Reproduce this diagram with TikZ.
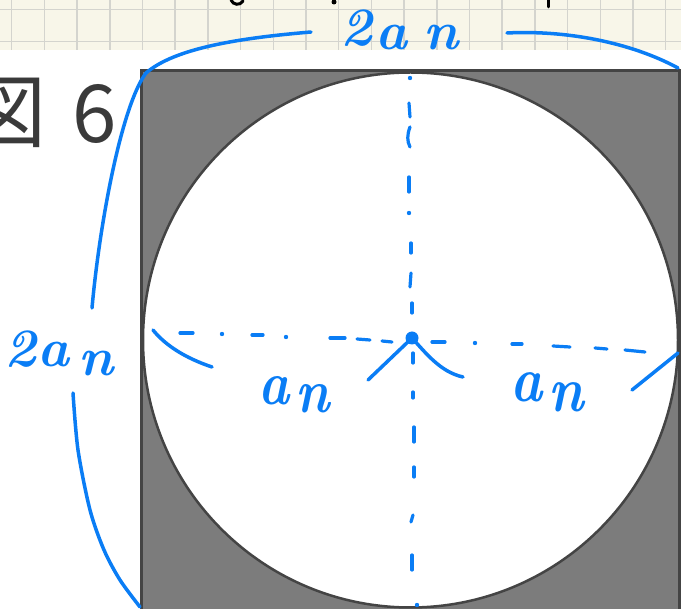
\documentclass[tikz,border=0pt]{standalone}
\usepackage{fontspec}
\newfontfamily\cjk{Noto Sans CJK JP}
\definecolor{pen}{RGB}{10,125,245}
\definecolor{paper}{RGB}{248,246,233}
\definecolor{gridc}{RGB}{212,212,206}
\definecolor{sq}{RGB}{124,124,124}
\definecolor{edge}{RGB}{68,68,68}
\definecolor{ink}{RGB}{58,58,58}
\begin{document}
\begin{tikzpicture}[x=1pt,y=-1pt,
  penline/.style={draw=pen, line width=3.5pt, line cap=round, line join=round},
  dashseg/.style={draw=pen, line width=3.2pt, line cap=round},
  dotmark/.style={fill=pen},
  hand/.style={text=pen, inner sep=0pt, anchor=base west, font=\fontsize{#1}{#1}\selectfont\bfseries\itshape},
  fig/.style={text=ink, inner sep=0pt, font=\cjk\fontsize{80}{80}\selectfont}]
\useasboundingbox (0,0) rectangle (681,609);
% grid paper strip
\fill[paper] (0,0) rectangle (681,50);
\foreach \i in {0,...,20} \draw[gridc, line width=1.5pt] ({11.7+32.7*\i},0) -- ({11.7+32.7*\i},50);
\draw[gridc, line width=1.5pt] (0,9.3) -- (681,9.3) (0,41.7) -- (681,41.7);
% fragments of writing cut at the top
\draw[black, line width=3pt, line cap=round] (231,0) .. controls (233,5) and (240,6) .. (243,1);
\fill[black] (334,2) circle (2.5);
\draw[black, line width=3pt, line cap=round] (548,0) -- (548,7);
% figure label
\node[fig] (zu) at (7,113) {図};
\node[fig] (six) at (95,114) {6};
% square and circle
\filldraw[fill=sq, draw=edge, line width=3pt] (141,71) rectangle (679,620);
\filldraw[fill=white, draw=edge, line width=2.5pt] (410.5,340) circle (267.5);
% centre
\coordinate (O) at (412,338);
% horizontal dash-dot line
\foreach \a/\b/\c/\d in {180/333/193/333, 252/335/263/335, 330/338/345/338, 357/339/370/340, 382/341/392/342, 432/342/445/342, 512/344/522/344, 553/346/570/347, 595/348/607/349, 625/350/645/352}
  \draw[dashseg] (\a,\b) -- (\c,\d);
\foreach \p in {(222,334),(286,337),(475,343)} \fill[dotmark] \p circle (2.2);
% vertical dash-dot line
\foreach \a/\b/\c/\d in {409/103/410/117, 409/177/409/192, 411/243/411/253, 411/273/410/287, 412/303/412/313, 413/353/413/363, 413/392/413/398, 414/427/414/442, 414/467/414/477, 413/515/411/522, 412/555/412/570}
  \draw[dashseg] (\a,\b) -- (\c,\d);
\draw[dashseg] (410,127) .. controls (407,135) and (407,141) .. (410,147);
\foreach \p in {(410,78),(409,213),(417,605)} \fill[dotmark] \p circle (2.2);
\fill[pen] (O) circle (6.5);
% braces
\coordinate (tl) at (146,73);
\coordinate (tr) at (678,68);
\draw[penline] (tl) .. controls (175,48) and (240,38) .. (311,32);
\draw[penline] (507,33) .. controls (565,30) and (630,42) .. (tr);
\draw[penline] (tl) .. controls (122,105) and (100,220) .. (92,308);
\draw[penline] plot[smooth] coordinates {(73,393) (78,450) (90,510) (104,550) (120,580) (140,607)};
% radius marks
\draw[penline] (153,330) .. controls (165,345) and (185,358) .. (212,367);
\draw[penline] (368,380) -- (O);
\draw[penline] (O) .. controls (425,352) and (440,372) .. (463,377);
\draw[penline] (632,390) -- (678,353);
% labels
\node[hand=54] (top) at (340,50) {\raisebox{4pt}{2}\kern 3pt a\kern 16pt n};
\node[hand=54] (left) at (4,367) {2\kern 1pt a\kern 9pt\raisebox{-9pt}{n}};
\node[hand=62] (r1) at (258,405) {\scalebox{0.85}[1]{a}\kern 6pt\raisebox{-8pt}{\scalebox{0.85}[1]{n}}};
\node[hand=64] (r2) at (510,402) {\scalebox{0.85}[1]{a}\kern 6pt\raisebox{-10pt}{\scalebox{0.85}[1]{n}}};
\end{tikzpicture}
\end{document}
